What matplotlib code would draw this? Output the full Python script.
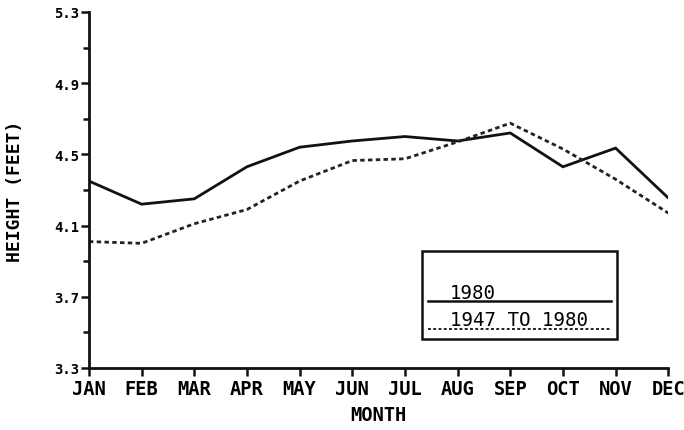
import numpy as np
import matplotlib.pyplot as plt
from matplotlib.patches import Rectangle
from matplotlib.lines import Line2D

months = ["JAN", "FEB", "MAR", "APR", "MAY", "JUN",
          "JUL", "AUG", "SEP", "OCT", "NOV", "DEC"]
height_1980 = [4.35, 4.22, 4.25, 4.43, 4.54, 4.575,
               4.60, 4.575, 4.62, 4.43, 4.535, 4.255]
height_1947_1980 = [4.01, 4.0, 4.11, 4.19, 4.35, 4.465,
                    4.475, 4.57, 4.675, 4.53, 4.36, 4.17]
yticks = [3.3, 3.7, 4.1, 4.5, 4.9, 5.3]

MONO = "DejaVu Sans Mono"

fig = plt.figure(figsize=(6.84, 4.31), dpi=100)
ax = fig.add_axes([0.130, 0.144, 0.847, 0.826])

x = np.arange(len(months))
ax.plot(x, height_1980, color="#111", lw=2.0, solid_joinstyle="miter")
ax.plot(x, height_1947_1980, color="#222", lw=2.0, ls=(0, (1.6, 1.2)))

ax.set_xlim(0, 11)
ax.set_ylim(3.3, 5.3)
ax.set_xticks(x)
ax.set_xticklabels(months, family=MONO, fontweight="bold", fontsize=13.5)
ax.set_yticks(yticks)
ax.set_yticklabels([f"{v:.1f}" for v in yticks], family=MONO,
                   fontweight="bold", fontsize=10)
ax.set_yticks(np.arange(3.5, 5.3, 0.4), minor=True)

for side in ("top", "right"):
    ax.spines[side].set_visible(False)
for side in ("left", "bottom"):
    ax.spines[side].set_linewidth(2.0)
    ax.spines[side].set_color("#111")
ax.tick_params(which="major", direction="out", length=6, width=1.8, color="#111")
ax.tick_params(which="minor", direction="out", length=4.5, width=1.8, color="#111")
ax.tick_params(axis="x", pad=2)
ax.tick_params(axis="y", pad=1)

ax.set_xlabel("MONTH", family=MONO, fontweight="bold", fontsize=13.5, labelpad=5)
ax.set_ylabel("HEIGHT (FEET)", family=MONO, fontweight="bold", fontsize=13,
              labelpad=22)

# key box in the lower right
tr = ax.transAxes
ax.add_patch(Rectangle((0.575, 0.081), 0.337, 0.248, transform=tr,
                       fill=False, lw=1.8, ec="#111", zorder=5))
ax.text(0.623, 0.196, "1980", transform=tr, family=MONO, fontsize=13.8,
        va="baseline", ha="left")
ax.add_line(Line2D([0.585, 0.902], [0.188, 0.188], transform=tr,
                   color="#111", lw=1.8))
ax.text(0.623, 0.122, "1947 TO 1980", transform=tr, family=MONO,
        fontsize=13.8, va="baseline", ha="left")
ax.add_line(Line2D([0.585, 0.902], [0.110, 0.110], transform=tr,
                   color="#222", lw=1.4, ls=(0, (1.5, 1.2))))

fig.savefig("out.png", dpi=100)
